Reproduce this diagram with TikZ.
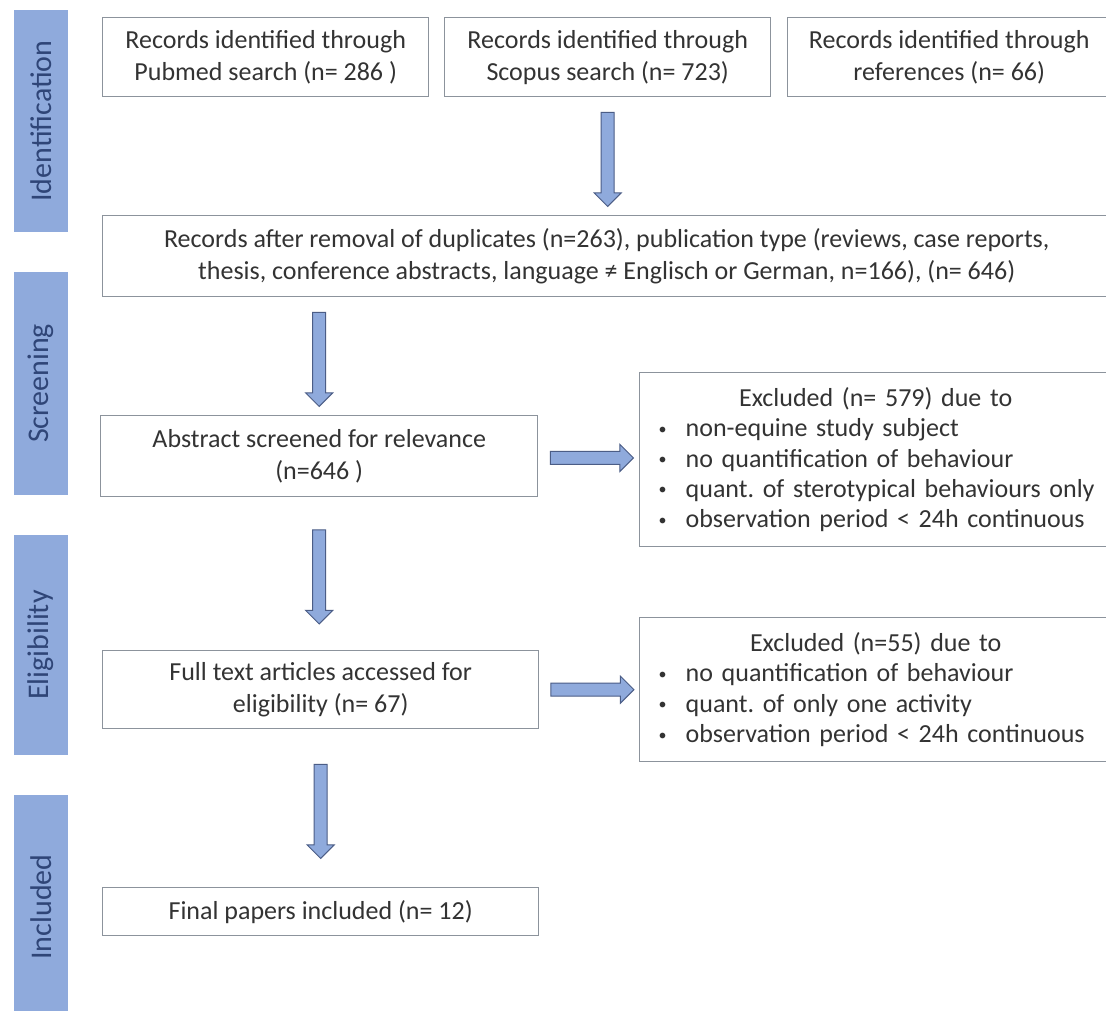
\documentclass[tikz,border=0pt]{standalone}
\usepackage{xcolor}
\usepackage{fontspec}
\setmainfont{Carlito}
\usepackage{tikz}
\usetikzlibrary{positioning,calc,shapes.arrows}

\definecolor{phasefill}{HTML}{8FAADC}
\definecolor{phasetext}{HTML}{2F4577}
\definecolor{boxline}{HTML}{8C939C}
\definecolor{boxtext}{HTML}{333333}
\definecolor{arrowline}{HTML}{4B5D86}

% one bullet line of an exclusion box
\newcommand{\exline}[1]{\mbox{\makebox[13.5pt][l]{\raisebox{1.3pt}{\fontsize{8pt}{8pt}\selectfont\textbullet}}#1}}

\tikzset{
	phase/.style={fill=phasefill, text=phasetext, rotate=90, minimum height=27pt, inner sep=0pt, font=\fontsize{15pt}{18pt}\selectfont},
	recbox/.style={draw=boxline, line width=0.7pt, fill=white, text=boxtext, align=center, anchor=north west, inner sep=0pt, font=\fontsize{13pt}{16pt}\selectfont},
	exbox/.style={recbox, align=left, text width=217pt, inner xsep=9.5pt, font=\fontsize{13pt}{15.2pt}\selectfont\frenchspacing},
	blockarrow/.style={single arrow, draw=arrowline, fill=phasefill, line width=0.5pt, inner sep=3pt, single arrow head extend=3.5pt},
	dnarrow/.style={blockarrow, rotate=-90, minimum height=47pt},
	rtarrow/.style={blockarrow, minimum height=41.5pt}
}

\begin{document}
\begin{tikzpicture}[x=0.5pt, y=-0.5pt]
			\fill[white] (0,0) rectangle (1106,1010);
			\clip (0,0) rectangle (1106,1010);

			% phases
			\node[phase, minimum width=111pt] (ident) at (41,121) {Identification};
			\node[phase, minimum width=111.5pt] (screen) at (41,383.5) {Screening};
			\node[phase, minimum width=110pt] (elig) at (41,645) {Eligibility};
			\node[phase, minimum width=112pt] (incl) at (41,907) {Included};

			% identification
			\node[recbox, minimum width=163pt, minimum height=39.5pt] (pubmed) at (102,17) {Records identified through\\Pubmed search (n= 286 )};
			\node[recbox, minimum width=163pt, minimum height=39.5pt] (scopus) at (444,17) {Records identified through\\Scopus search (n= 723)};
			\node[recbox, minimum width=161.5pt, minimum height=39.5pt] (refs) at (787,17) {Records identified through\\references (n= 66)};
			\node[recbox, minimum width=504pt, minimum height=40.5pt] (recs) at (102,215) {Records after removal of duplicates (n=263), publication type (reviews, case reports,\\thesis, conference abstracts, language ≠ Englisch or German, n=166), (n= 646)};

			% screening
			\node[recbox, minimum width=218.5pt, minimum height=40.5pt] (abstr) at (100,415) {Abstract screened for relevance\\(n=646 )};
			\node[exbox, minimum width=236pt, minimum height=87pt] (excla) at (639,372) {{\centering Excluded (n= 579) due to\par}\raggedright
				\exline{non-equine study subject}\\
				\exline{no quantification of behaviour}\\
				\exline{quant. of sterotypical behaviours only}\\
				\exline{observation period < 24h continuous}};

			% eligibility
			\node[recbox, minimum width=218pt, minimum height=39pt] (full) at (102,650) {Full text articles accessed for\\eligibility (n= 67)};
			\node[exbox, minimum width=236pt, minimum height=72pt] (exclb) at (639,617) {{\centering Excluded (n=55) due to\par}\raggedright
				\exline{no quantification of behaviour}\\
				\exline{quant. of only one activity}\\
				\exline{observation period < 24h continuous}};

			% included
			\node[recbox, minimum width=218pt, minimum height=24pt] (final) at (102,887) {Final papers included (n= 12)};

			% arrows
			\coordinate (m1) at ($(scopus.south)!0.5!(recs.north)$);
			\coordinate (m2) at ($(recs.south)!0.5!(abstr.north)$);
			\coordinate (m3) at ($(abstr.south)!0.5!(full.north)$);
			\coordinate (m4) at ($(full.south)!0.5!(final.north)$);
			\node[dnarrow] (down1) at (scopus.south |- m1) {};
			\node[dnarrow] (down2) at (abstr.north |- m2) {};
			\node[dnarrow] (down3) at (abstr.south |- m3) {};
			\node[dnarrow] (down4) at (full.south |- m4) {};
			\node[rtarrow] (right1) at ($(abstr.east)!0.5!(excla.west)$) {};
			\node[rtarrow] (right2) at ($(full.east)!0.5!(exclb.west)$) {};
		\end{tikzpicture}
\end{document}
